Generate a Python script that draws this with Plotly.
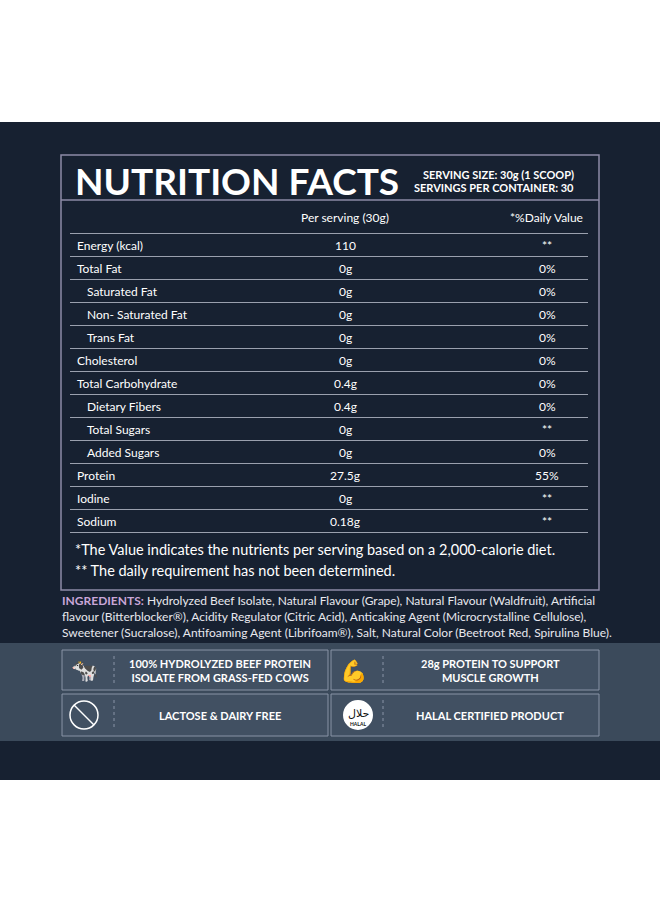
import plotly.graph_objects as go

nutrients = ["Energy (kcal)", "Total Fat", "Saturated Fat", "Non- Saturated Fat", "Trans Fat",
             "Cholesterol", "Total Carbohydrate", "Dietary Fibers", "Total Sugars", "Added Sugars",
             "Protein", "Iodine", "Sodium"]
indented = [False, False, True, True, True, False, False, True, True, True, False, False, False]
per_serving = ["110", "0g", "0g", "0g", "0g", "0g", "0.4g", "0.4g", "0g", "0g", "27.5g", "0g", "0.18g"]
daily_value = ["**", "0%", "0%", "0%", "0%", "0%", "0%", "0%", "**", "0%", "55%", "**", "**"]
features = ["100% HYDROLYZED BEEF PROTEIN<br>ISOLATE FROM GRASS-FED COWS",
            "28g PROTEIN TO SUPPORT<br>MUSCLE GROWTH",
            "LACTOSE & DAIRY FREE", "HALAL CERTIFIED PRODUCT"]
ingredients = [
    "<b><span style='color:#c9a6d8'>INGREDIENTS:</span></b> Hydrolyzed Beef Isolate, Natural Flavour (Grape), Natural Flavour (Waldfruit), Artificial",
    "flavour (Bitterblocker®), Acidity Regulator (Citric Acid), Anticaking Agent (Microcrystalline Cellulose),",
    "Sweetener (Sucralose), Antifoaming Agent (Librifoam®), Salt, Natural Color (Beetroot Red, Spirulina Blue).",
]

NAVY = "#172131"
BAND = "#3b4a5b"
LINE = "#8d8aa6"
FONT = "Lato"

fig = go.Figure()
shapes, ann = [], []

def rect(x0, y0, x1, y1, fill=None, line=None, w=1):
    shapes.append(dict(type="rect", x0=x0, y0=y0, x1=x1, y1=y1, xref="x", yref="y",
                       fillcolor=fill or "rgba(0,0,0,0)",
                       line=dict(color=line or "rgba(0,0,0,0)", width=w if line else 0), layer="below"))

def text(x, y, s, size=11, anchor="left", color="white", bold=False):
    ann.append(dict(x=x, y=y, xref="x", yref="y", text=f"<b>{s}</b>" if bold else s, showarrow=False,
                    xanchor=anchor, yanchor="middle", font=dict(family=FONT, size=size, color=color)))

rect(0, 122, 660, 780, fill=NAVY)
rect(0, 643, 660, 741, fill=BAND)
rect(61, 155, 599, 590, line=LINE, w=1.5)
shapes.append(dict(type="line", x0=61, x1=599, y0=200, y1=200, xref="x", yref="y", line=dict(color=LINE, width=1.5)))

text(73, 180, "NUTRITION FACTS", size=37, bold=True)
text(576, 174, "SERVING SIZE: 30g (1 SCOOP)", size=11, anchor="right", bold=True)
text(576, 187, "SERVINGS PER CONTAINER: 30", size=11, anchor="right", bold=True)
text(345, 217, "Per serving (30g)", size=12, anchor="center")
text(585, 217, "*%Daily Value", size=12, anchor="right")

y0, dy = 245, 23
shapes.append(dict(type="line", x0=70, x1=588, y0=y0 - 11.5, y1=y0 - 11.5, xref="x", yref="y", line=dict(color="#9aa0ae", width=1)))
for i, (n, ind, ps, dv) in enumerate(zip(nutrients, indented, per_serving, daily_value)):
    y = y0 + i * dy
    text(85 if ind else 75, y, n, size=12)
    text(345, y, ps, size=12, anchor="center")
    text(547, y, dv, size=12, anchor="center")
    shapes.append(dict(type="line", x0=70, x1=588, y0=y + 11.5, y1=y + 11.5, xref="x", yref="y", line=dict(color="#9aa0ae", width=1)))

text(73, 549, "*The Value indicates the nutrients per serving based on a 2,000-calorie diet.", size=14.5)
text(73, 570, "** The daily requirement has not been determined.", size=14.5)

for k, line in enumerate(ingredients):
    text(60, 600 + k * 16, line, size=12, color="#e8e8ee")

boxes = [(62, 650, 328, 690), (331, 650, 599, 690), (62, 694, 328, 736), (331, 694, 599, 736)]
for (bx0, by0, bx1, by1), f in zip(boxes, features):
    rect(bx0, by0, bx1, by1, fill="#415062", line="#8993a6", w=1)
    text((bx0 + 50 + bx1) / 2, (by0 + by1) / 2, f, size=11, anchor="center", bold=True)
    shapes.append(dict(type="line", x0=bx0 + 52, x1=bx0 + 52, y0=by0 + 6, y1=by1 - 6, xref="x", yref="y",
                       line=dict(color="#8993a6", width=1, dash="dot")))
text(84, 669, "🐄", size=22, anchor="center")
text(353, 670, "💪", size=22, anchor="center")
shapes.append(dict(type="circle", x0=70, x1=98, y0=701, y1=729, xref="x", yref="y", line=dict(color="white", width=1.5)))
shapes.append(dict(type="line", x0=74, x1=94, y0=705, y1=725, xref="x", yref="y", line=dict(color="white", width=1.5)))
shapes.append(dict(type="circle", x0=344, x1=372, y0=701, y1=729, xref="x", yref="y", fillcolor="white", line=dict(color="white")))
ann.append(dict(x=358, y=713, xref="x", yref="y", text="حلال", showarrow=False, font=dict(size=11, color="#111", family="DejaVu Sans")))
ann.append(dict(x=358, y=724, xref="x", yref="y", text="<b>HALAL</b>", showarrow=False, font=dict(size=5, color="#111", family=FONT)))

fig.update_layout(width=660, height=904, margin=dict(l=0, r=0, t=0, b=0),
                  paper_bgcolor="white", plot_bgcolor="white", shapes=shapes, annotations=ann,
                  xaxis=dict(range=[0, 660], visible=False, fixedrange=True),
                  yaxis=dict(range=[904, 0], visible=False, fixedrange=True),
                  showlegend=False)
fig.write_html("out.html", config={"displayModeBar": False},
               post_script="document.body.style.margin='0';document.body.style.overflow='hidden';")
